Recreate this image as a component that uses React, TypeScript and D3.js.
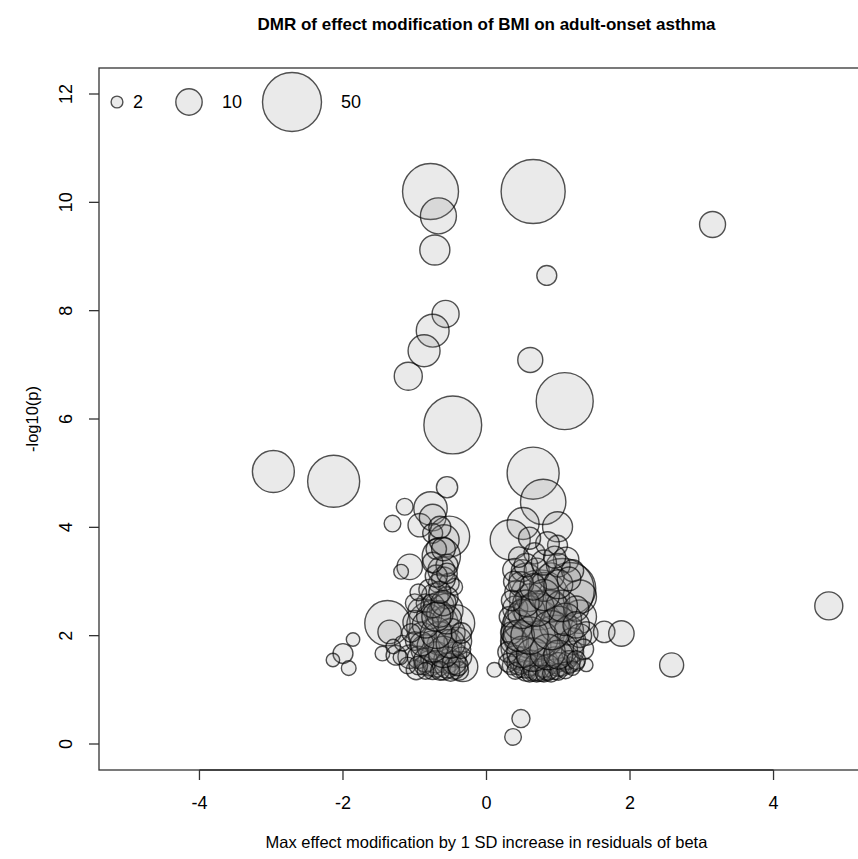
import React from "react";
import * as d3 from "d3";

// [x, -log10(p), number of CpGs]
const isolatedDmrs: [number, number, number][] = [
  [-0.78, 10.2, 45], [0.65, 10.2, 59], [-0.67, 9.75, 18.6], [-0.72, 9.12, 13],
  [0.84, 8.65, 5.7], [3.15, 9.59, 9.7], [-0.57, 7.94, 10.5], [-0.75, 7.63, 15.5],
  [-0.87, 7.26, 14.7], [-1.09, 6.79, 11.3], [0.61, 7.09, 9], [-0.47, 5.89, 48],
  [1.09, 6.33, 46.7], [-2.97, 5.03, 25.3], [-2.13, 4.85, 38.9], [4.77, 2.55, 11.3],
  [2.58, 1.46, 8.3], [0.48, 0.47, 4.7], [0.37, 0.13, 4],
];

const leftCluster: [number, number, number][] = [
  [-0.55, 4.74, 6.5], [-1.14, 4.38, 4], [-0.78, 4.35, 16], [-1.31, 4.07, 4],
  [-0.93, 4.04, 7.9], [-0.75, 4.18, 10.2], [-0.52, 3.83, 24], [-0.59, 3.77, 12.9],
  [-0.75, 3.89, 5.7], [-0.63, 3.46, 21], [-1.07, 3.27, 9.3], [-1.19, 3.18, 3.1],
  [-0.63, 3.21, 10.2], [-0.68, 2.97, 5], [-0.52, 2.97, 5.7], [-0.45, 2.9, 4],
  [-0.72, 2.72, 10.2], [-0.66, 2.53, 12.9], [-1.38, 2.23, 29.6], [-1.35, 2.07, 7.9],
  [-1.86, 1.93, 2.6], [-2.0, 1.67, 5.7], [-2.14, 1.55, 2.6], [-1.92, 1.4, 3.1],
  [-1.45, 1.67, 3.1], [-1.26, 1.64, 5.7], [-0.75, 2.17, 38.9], [-0.59, 1.8, 17.2],
  [-0.33, 1.43, 12.9], [-0.79, 1.49, 9.3], [-0.98, 1.37, 5.7], [-0.56, 2.47, 16],
  [-0.93, 2.47, 7.9], [-1.07, 1.61, 7.9], [-1.17, 1.86, 3.6], [-0.42, 2.23, 19.3],
  [-0.9, 2.0, 10], [-0.85, 1.75, 12], [-0.7, 1.6, 14], [-0.55, 1.55, 10],
  [-0.45, 1.65, 9], [-0.4, 1.9, 11], [-0.65, 1.95, 16], [-0.95, 1.6, 7],
  [-1.0, 2.25, 8], [-0.8, 2.35, 9], [-0.5, 2.05, 12], [-0.6, 1.4, 8],
  [-0.45, 1.4, 7], [-0.75, 1.38, 6], [-0.88, 1.45, 5], [-1.1, 1.45, 4],
  [-0.35, 1.6, 6], [-0.55, 2.7, 7], [-0.8, 2.85, 6], [-0.6, 3.05, 8],
  [-0.7, 3.6, 6], [-0.55, 3.3, 7], [-0.85, 2.6, 5], [-1.0, 1.9, 5],
  [-0.38, 1.35, 5],
  [-0.85, 1.55, 8], [-0.7, 1.48, 10], [-0.55, 1.45, 9], [-0.45, 1.5, 8],
  [-0.95, 1.45, 5], [-0.65, 1.35, 5], [-0.5, 1.33, 5], [-0.85, 1.35, 4],
  [-0.4, 1.45, 6], [-0.6, 1.7, 14], [-0.75, 1.8, 14], [-0.9, 1.85, 8],
  [-0.5, 1.85, 12], [-0.7, 2.05, 14], [-0.85, 2.2, 10], [-0.55, 2.3, 12],
  [-0.65, 2.4, 10], [-0.75, 2.55, 8], [-0.6, 2.6, 9], [-0.65, 2.8, 7],
  [-0.7, 3.1, 7], [-0.55, 3.15, 6], [-0.75, 3.35, 6], [-0.6, 3.6, 8],
  [-0.65, 4.0, 7], [-0.7, 2.35, 12], [-1.05, 2.05, 5], [-1.2, 1.6, 3],
  [-1.3, 1.8, 3], [-0.35, 1.75, 5], [-0.35, 2.05, 6], [-1.0, 2.6, 5],
  [-0.95, 2.8, 4],
];

const rightCluster: [number, number, number][] = [
  [0.65, 5.0, 38.9], [0.79, 4.47, 29.6], [0.51, 4.07, 14.7], [0.99, 4.01, 12.9],
  [0.33, 3.77, 23], [0.99, 3.67, 5.7], [0.67, 3.52, 6.5], [1.11, 3.4, 9.3],
  [0.39, 3.21, 7.9], [0.55, 3.03, 16], [1.16, 2.87, 38.9], [0.74, 2.66, 51.7],
  [0.65, 2.1, 57.7], [0.83, 2.35, 41], [0.55, 1.8, 35.9], [0.97, 1.86, 45],
  [1.3, 2.35, 16], [1.39, 2.04, 7.9], [1.64, 2.07, 6.6], [1.88, 2.04, 9.3],
  [1.39, 1.46, 2.6], [0.11, 1.37, 3.1], [1.3, 2.72, 16], [1.06, 2.84, 57.7],
  [0.69, 2.17, 62.6],
  [0.35, 1.45, 5], [0.45, 1.38, 4], [0.55, 1.35, 6], [0.65, 1.33, 5],
  [0.75, 1.36, 7], [0.85, 1.34, 5], [0.95, 1.38, 6], [1.05, 1.42, 5],
  [1.15, 1.45, 4], [1.25, 1.5, 4], [0.4, 1.6, 8], [0.5, 1.55, 10],
  [0.62, 1.5, 9], [0.8, 1.5, 12], [0.95, 1.55, 10], [1.1, 1.6, 9],
  [1.2, 1.7, 7], [0.38, 1.9, 10], [0.45, 2.2, 12], [0.4, 2.5, 9],
  [0.42, 2.8, 8], [0.5, 3.2, 7], [0.6, 2.45, 14], [0.9, 2.55, 15],
  [1.0, 2.2, 20], [1.15, 2.1, 12], [1.2, 1.9, 10], [0.75, 1.95, 18],
  [0.8, 2.9, 12], [0.9, 3.1, 10], [0.7, 3.2, 9], [1.0, 3.3, 8],
  [1.2, 3.2, 7], [0.6, 2.7, 11], [0.48, 2.95, 9], [1.25, 2.5, 9],
  [0.35, 2.05, 7], [0.3, 1.7, 6], [0.32, 2.35, 6], [1.05, 1.75, 14],
  [0.45, 1.5, 8], [0.55, 1.45, 9], [0.7, 1.42, 10], [0.85, 1.42, 9],
  [1.0, 1.47, 8], [1.15, 1.52, 7], [0.3, 1.5, 5], [0.4, 1.35, 4],
  [0.6, 1.3, 4], [0.7, 1.3, 4], [0.8, 1.3, 4], [0.9, 1.3, 4],
  [1.0, 1.33, 4], [1.1, 1.36, 4], [1.2, 1.4, 3], [0.5, 1.7, 14],
  [0.65, 1.65, 16], [0.85, 1.7, 18], [1.0, 1.65, 12], [0.45, 2.0, 14],
  [0.6, 2.0, 20], [0.9, 2.1, 22], [1.1, 2.3, 15], [0.5, 2.4, 12],
  [0.7, 2.5, 18], [1.05, 2.55, 14], [0.55, 2.6, 10], [0.8, 2.75, 14],
  [1.0, 2.95, 12], [0.65, 2.9, 10], [0.55, 3.3, 8], [0.8, 3.35, 9],
  [0.95, 3.45, 7], [0.45, 3.45, 6], [1.15, 3.05, 8], [1.3, 2.0, 8],
  [1.25, 2.2, 10], [0.35, 2.65, 6], [0.38, 3.0, 6], [1.35, 1.75, 6],
  [1.25, 1.55, 5], [0.85, 3.7, 8], [0.6, 3.8, 7],
];

const legendSizes = [2, 10, 50];
const xTicks = [-4, -2, 0, 2, 4];
const yTicks = [0, 2, 4, 6, 8, 10, 12];

const title = "DMR of effect modification of BMI on adult-onset asthma";
const xTitle = "Max effect modification by 1 SD increase in residuals of beta";
const yTitle = "-log10(p)";

const W = 858;
const H = 859;
const plot = { left: 99, right: 874, top: 68, bottom: 770 };
const font = "'Liberation Sans', Arial, sans-serif";

export default function App() {
  const x = d3.scaleLinear().domain([-5.4, 5.4]).range([plot.left, plot.right]);
  const y = d3.scaleLinear().domain([-0.48, 12.48]).range([plot.bottom, plot.top]);
  const r = d3.scaleSqrt().domain([0, 50]).range([0, 29.5]);

  const all = [...isolatedDmrs, ...leftCluster, ...rightCluster];
  const fill = "rgba(128,128,128,0.17)";
  const stroke = "rgba(0,0,0,0.68)";

  // legend layout: symbol x, text x
  const legendY = 102;
  const legendSym = [117, 189, 292];
  const legendTxt = [133, 222, 341];

  return (
    <svg width={W} height={H} style={{ position: "absolute", left: 0, top: 0, background: "#fff" }}
      fontFamily={font}>
      <defs>
        <clipPath id="plotclip">
          <rect x={plot.left} y={plot.top} width={plot.right - plot.left} height={plot.bottom - plot.top} />
        </clipPath>
      </defs>
      <text x={x(0)} y={30} textAnchor="middle" fontWeight="bold" fontSize={17} fill="#000">{title}</text>

      <g clipPath="url(#plotclip)">
        {all.map((d, i) => (
          <circle key={i} cx={x(d[0])} cy={y(d[1])} r={r(d[2])} fill={fill} stroke={stroke} strokeWidth={1.4} />
        ))}
        {legendSizes.map((s, i) => (
          <g key={s}>
            <circle cx={legendSym[i]} cy={legendY} r={r(s)} fill={fill} stroke={stroke} strokeWidth={1.4} />
            <text x={legendTxt[i]} y={legendY} dy="0.35em" fontSize={18}>{s}</text>
          </g>
        ))}
      </g>

      {/* box */}
      <rect x={plot.left} y={plot.top} width={plot.right - plot.left} height={plot.bottom - plot.top}
        fill="none" stroke="#333" strokeWidth={1.3} />

      {/* x axis */}
      <line x1={x(xTicks[0])} x2={x(xTicks[xTicks.length - 1])} y1={plot.bottom} y2={plot.bottom} stroke="#333" strokeWidth={1.3} />
      {xTicks.map(t => (
        <g key={t}>
          <line x1={x(t)} x2={x(t)} y1={plot.bottom} y2={plot.bottom + 10} stroke="#333" strokeWidth={1.3} />
          <text x={x(t)} y={803} dy="0.35em" textAnchor="middle" fontSize={18}>{t}</text>
        </g>
      ))}
      <text x={x(0)} y={842} dy="0.35em" textAnchor="middle" fontSize={16.5}>{xTitle}</text>

      {/* y axis */}
      {yTicks.map(t => (
        <g key={t}>
          <line x1={plot.left - 10} x2={plot.left} y1={y(t)} y2={y(t)} stroke="#333" strokeWidth={1.3} />
          <text transform={`translate(66,${y(t)}) rotate(-90)`} dy="0.35em" textAnchor="middle" fontSize={18}>{t}</text>
        </g>
      ))}
      <text transform={`translate(32,${(plot.top + plot.bottom) / 2}) rotate(-90)`} dy="0.35em" textAnchor="middle" fontSize={16.5}>{yTitle}</text>
    </svg>
  );
}
